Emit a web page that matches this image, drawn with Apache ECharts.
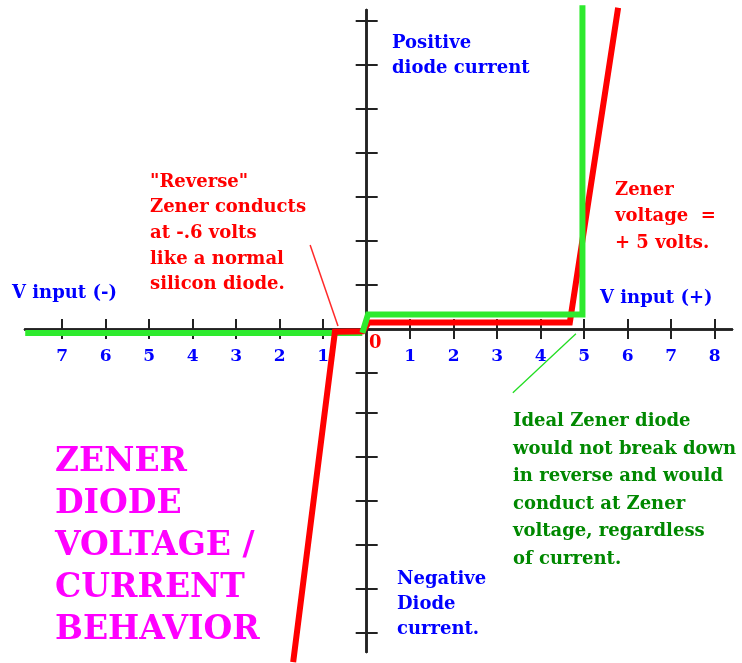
<!DOCTYPE html>
<html>
<head>
<meta charset="utf-8">
<script src="https://cdn.jsdelivr.net/npm/echarts@6/dist/echarts.min.js"></script>
<style>
  html, body { margin: 0; padding: 0; background: #fff; }
  #chart { width: 742px; height: 663px; }
</style>
</head>
<body>
<div id="chart"></div>
<script>
// axis ticks (volts on x, arbitrary current units on y)
const xTicks = [-7, -6, -5, -4, -3, -2, -1, 1, 2, 3, 4, 5, 6, 7, 8];
const yTicks = [7, 6, 5, 4, 3, 2, 1, -1, -1.9, -2.9, -3.9, -4.9, -5.9, -6.9];

// real zener: steep reverse conduction near -0.7 V, breakdown just under 5 V
const zenerCurve = [[-1.69, -7.57], [-0.73, -0.06], [-0.09, -0.05], [0.05, 0.15], [4.67, 0.15], [5.78, 7.3]];
// ideal zener, split so the reverse half sits under the red trace
const idealReverse = [[-7.85, -0.09], [-0.1, -0.09]];
const idealForward = [[-0.1, -0.09], [0.03, 0.33], [4.96, 0.33], [4.96, 7.36]];

// thin pointer lines from the notes
const reversePointer = [[-1.3, 1.91], [-0.66, 0.07]];
const idealPointer = [[3.36, -1.45], [4.81, -0.11]];

const X_MIN = -7.855, X_MAX = 8.398;
const Y_MIN = -7.341, Y_MAX = 7.25;

const FONT = "DejaVu Serif";
const AXIS_COLOR = "#222";

function note(text, left, top, color, lineHeight, size) {
  return {
    type: "text",
    left,
    top,
    z: 10,
    style: {
      text,
      fill: color,
      font: `bold ${size || 18}px "${FONT}"`,
      lineHeight: lineHeight || 25,
    },
  };
}

function valueAxis(position, min, max, ticks, tickLen) {
  return {
    type: "value",
    position,
    min,
    max,
    axisLine: { show: true, onZero: true, onZeroAxisIndex: 0, lineStyle: { color: AXIS_COLOR, width: 2.5 } },
    axisTick: { customValues: ticks, length: tickLen, lineStyle: { color: AXIS_COLOR, width: 2 } },
    axisLabel: { show: false },
    splitLine: { show: false },
  };
}

const chart = echarts.init(document.getElementById("chart"));

chart.setOption({
  backgroundColor: "#fff",
  animation: false,
  grid: { left: 25, right: 10, top: 10, bottom: 11, containLabel: false, outerBoundsMode: "none" },
  xAxis: [
    valueAxis("bottom", X_MIN, X_MAX, xTicks, 10),
    valueAxis("top", X_MIN, X_MAX, xTicks, 10),
  ],
  yAxis: [
    valueAxis("left", Y_MIN, Y_MAX, yTicks, 11),
    valueAxis("right", Y_MIN, Y_MAX, yTicks, 11),
  ],
  series: [
    {
      name: "Ideal reverse",
      type: "line",
      data: idealReverse,
      symbol: "none",
      clip: false,
      z: 3,
      lineStyle: { color: "#2eea2e", width: 6, cap: "butt" },
    },
    {
      name: "Zener diode",
      type: "line",
      data: zenerCurve,
      symbol: "none",
      clip: false,
      z: 4,
      lineStyle: { color: "#ff0000", width: 6, join: "miter" },
    },
    {
      name: "Ideal forward",
      type: "line",
      data: idealForward,
      symbol: "none",
      clip: false,
      z: 5,
      lineStyle: { color: "#2eea2e", width: 6, join: "miter" },
    },
    {
      name: "Reverse note",
      type: "line",
      data: reversePointer,
      symbol: "none",
      z: 6,
      lineStyle: { color: "#ff2a2a", width: 1.5 },
    },
    {
      name: "Ideal note",
      type: "line",
      data: idealPointer,
      symbol: "none",
      z: 6,
      lineStyle: { color: "#22dd22", width: 1.3 },
    },
    {
      // volt numbers under the x axis, magnitude only on both sides
      name: "Volt labels",
      type: "scatter",
      data: xTicks.map((v) => [v, 0]),
      symbolSize: 1,
      itemStyle: { color: "rgba(0,0,0,0)", opacity: 1 },
      silent: true,
      z: 7,
      label: {
        show: true,
        position: "bottom",
        distance: 19,
        formatter: (p) => String(Math.abs(p.value[0])),
        color: "#0000ff",
        opacity: 1,
        fontFamily: FONT,
        fontWeight: "bold",
        fontSize: 17,
      },
    },
  ],
  graphic: [
    note("Positive\ndiode current", 392, 31, "#0000ff"),
    note("\"Reverse\"\nZener conducts\nat -.6 volts\nlike a normal\nsilicon diode.", 150, 169, "#ff0000", 25.7),
    note("Zener\nvoltage  =\n+ 5 volts.", 615, 177, "#ff0000", 26.5),
    note("V input (-)", 12, 281, "#0000ff"),
    note("V input (+)", 600, 286, "#0000ff"),
    note("0", 369, 331, "#ff0000", 25, 18),
    note("Ideal Zener diode\nwould not break down\nin reverse and would\nconduct at Zener\nvoltage, regardless\nof current.", 513, 408, "#008800", 27.5),
    note("ZENER\nDIODE\nVOLTAGE /\nCURRENT\nBEHAVIOR", 55, 441, "#ff00ff", 42, 33),
    note("Negative\nDiode\ncurrent.", 397, 567, "#0000ff"),
  ],
});
</script>
</body>
</html>
